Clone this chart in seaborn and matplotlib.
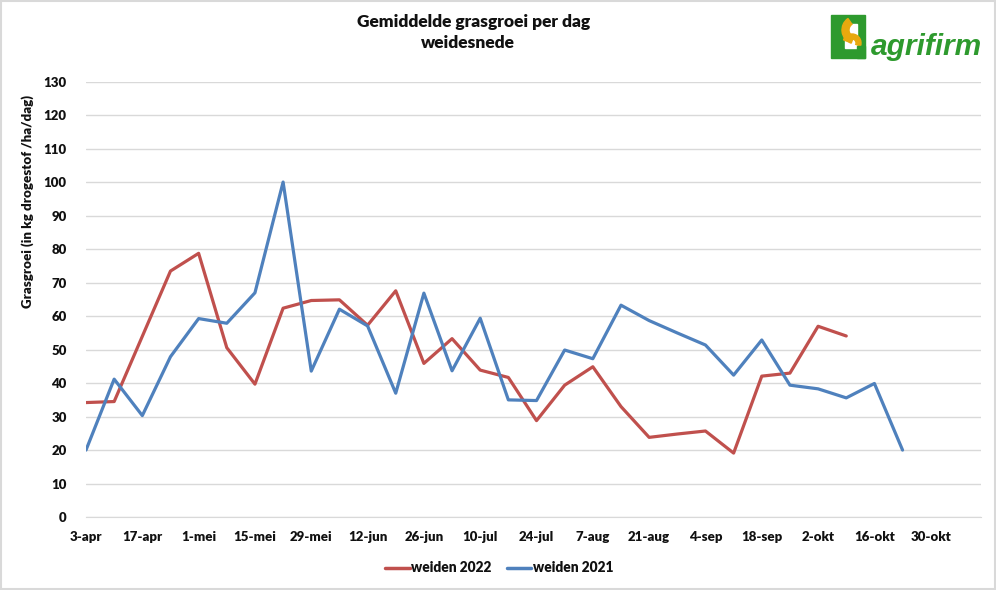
import numpy as np
import pandas as pd
import matplotlib
matplotlib.use("Agg")
import matplotlib.pyplot as plt
import matplotlib.patches as mpatches
import seaborn as sns

# ── data (weekly points from 3-apr) ──
start_date = "2022-04-03"
weiden_2022 = [34.2, 34.5, 54.0, 73.5, 78.8, 50.6, 39.7, 62.4, 64.7, 64.9,
               57.3, 67.6, 45.9, 53.3, 43.9, 41.7, 28.8, 39.4, 44.9, 33.0,
               23.8, 24.8, 25.7, 19.1, 42.1, 43.0, 57.0, 54.1]
weiden_2021 = [20.0, 41.2, 30.3, 47.9, 59.3, 57.9, 67.0, 100.1, 43.6, 62.1,
               57.1, 37.0, 66.9, 43.7, 59.4, 35.0, 34.8, 49.9, 47.3, 63.3,
               58.7, 55.0, 51.4, 42.4, 52.9, 39.4, 38.3, 35.6, 39.9, 20.0]
tick_labels = ["3-apr", "17-apr", "1-mei", "15-mei", "29-mei", "12-jun",
               "26-jun", "10-jul", "24-jul", "7-aug", "21-aug", "4-sep",
               "18-sep", "2-okt", "16-okt", "30-okt"]
y_ticks = list(range(0, 140, 10))

RED = "#C0504D"
BLUE = "#4F81BD"

dates_22 = pd.date_range(start_date, periods=len(weiden_2022), freq="7D")
dates_21 = pd.date_range(start_date, periods=len(weiden_2021), freq="7D")
df = pd.concat([
    pd.DataFrame({"datum": dates_22, "groei": weiden_2022, "serie": "weiden 2022"}),
    pd.DataFrame({"datum": dates_21, "groei": weiden_2021, "serie": "weiden 2021"}),
])

sns.set_style("white")
plt.rcParams["font.family"] = ["Lato", "DejaVu Sans"]
plt.rcParams["text.color"] = "#111111"
BOLD = "heavy"

W, H = 996, 590
fig = plt.figure(figsize=(W / 100, H / 100), dpi=100)
ax = fig.add_axes([86 / W, 1 - 517 / H, (981 - 86) / W, (517 - 82) / H])

sns.lineplot(data=df, x="datum", y="groei", hue="serie",
             palette={"weiden 2022": RED, "weiden 2021": BLUE},
             linewidth=2.3, ax=ax, legend=False)

x0 = pd.Timestamp(start_date)
tick_pos = pd.date_range(start_date, periods=len(tick_labels), freq="14D")
ax.set_xticks(tick_pos)
ax.set_xticklabels(tick_labels, fontsize=9.5, fontweight=BOLD, color="#111111")
ax.set_xlim(x0, x0 + pd.Timedelta(days=222.5))
ax.set_ylim(0, 130)
ax.set_yticks(y_ticks)
ax.set_yticklabels([str(v) for v in y_ticks], fontsize=9.5, fontweight=BOLD,
                   color="#111111")
ax.tick_params(axis="both", length=0, pad=10)
ax.tick_params(axis="y", pad=14)
ax.grid(True, axis="y", color="#D9D9D9", linewidth=1)
for s in ["top", "right", "left"]:
    ax.spines[s].set_visible(False)
ax.spines["bottom"].set_color("#D9D9D9")
ax.set_xlabel("")
ax.set_ylabel("")

# titles and axis label
fig.text(474 / W, 1 - 22 / H, "Gemiddelde grasgroei per dag", ha="center",
         va="center", fontsize=12.5, fontweight=BOLD)
fig.text(468 / W, 1 - 43 / H, "weidesnede", ha="center", va="center",
         fontsize=12.5, fontweight=BOLD)
fig.text(28 / W, 1 - 201 / H, "Grasgroei (in kg drogestof /ha/dag)",
         rotation=90, ha="center", va="center", fontsize=9.6, fontweight=BOLD)

# legend
handles = [plt.Line2D([], [], color=RED, lw=2.5),
           plt.Line2D([], [], color=BLUE, lw=2.5)]
fig.legend(handles, ["weiden 2022", "weiden 2021"], loc="center",
           bbox_to_anchor=(499 / W, 1 - 568 / H), ncol=2, frameon=False,
           handlelength=1.8, handletextpad=0.1, columnspacing=1.1,
           prop={"weight": BOLD, "size": 9.9})

# logo
GREEN = "#2E9A2E"
YELLOW = "#E8A90E"
lax = fig.add_axes([0, 0, 1, 1], zorder=5)
lax.set_xlim(0, W)
lax.set_ylim(H, 0)
lax.axis("off")
lax.add_patch(mpatches.Rectangle((831, 15), 34, 43, color=GREEN))
lax.add_patch(mpatches.Rectangle((845, 24), 12, 24, color="white"))
lax.add_patch(mpatches.Wedge((856, 30), 14, 110, 235, width=7, color=YELLOW))
lax.add_patch(mpatches.Wedge((852, 43), 9, 200, 20, width=5, color=YELLOW))
lax.add_patch(mpatches.Rectangle((857, 46), 8, 12, color=GREEN))
lax.text(871, 47, "agrifirm", fontsize=21.5, color=GREEN, style="italic",
         fontweight="bold", ha="left", va="center",
         family=["Liberation Sans Narrow", "Liberation Sans"])

# border
fig.patches.append(mpatches.Rectangle((0.001, 0.001), 0.998, 0.997,
                   transform=fig.transFigure, fill=False,
                   edgecolor="#D9D9D9", linewidth=1.5))

fig.savefig("out.png", dpi=100)
